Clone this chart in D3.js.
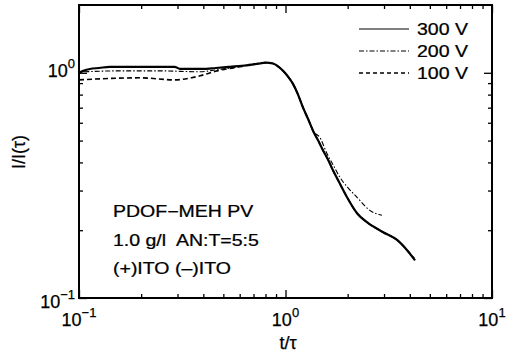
<!DOCTYPE html>
<html>
<head>
<meta charset="utf-8">
<script src="https://cdn.jsdelivr.net/npm/d3@7"></script>
<style>
  body { margin: 0; background: #fff; }
  svg { display: block; font-family: 'Liberation Sans', Arial, sans-serif; }
  text { stroke: #000; stroke-width: 0.25px; }
</style>
</head>
<body>
<div id="chart"></div>
<script>
const width = 508;
const height = 353;

// Data (t/tau vs I/I(tau))
const tRatio300 = [0.1, 0.105, 0.113, 0.125, 0.141, 0.2, 0.29, 0.31, 0.394, 0.46, 0.538, 0.65, 0.75, 0.8, 0.87, 0.93, 0.973, 1.03, 1.087, 1.15, 1.216, 1.29, 1.359, 1.44, 1.52, 1.61, 1.7, 1.84, 1.986, 2.22, 2.48, 2.97, 3.47, 3.88, 4.24];
const current300 = [1.0, 1.02, 1.04, 1.05, 1.063, 1.063, 1.063, 1.04, 1.04, 1.05, 1.063, 1.08, 1.1, 1.11, 1.1, 1.06, 1.02, 0.96, 0.893, 0.8, 0.7, 0.62, 0.553, 0.5, 0.452, 0.41, 0.368, 0.32, 0.28, 0.238, 0.217, 0.196, 0.181, 0.163, 0.147];

const tRatio200 = [0.106, 0.158, 0.25, 0.386, 0.46, 0.538, 0.65, 0.75, 0.8, 0.87, 0.93, 0.973, 1.03, 1.087, 1.15, 1.216, 1.29, 1.359, 1.469, 1.588, 1.7, 1.836, 2.0, 2.22, 2.56, 2.93];
const current200 = [1.01, 1.02, 1.02, 1.01, 1.03, 1.05, 1.08, 1.1, 1.11, 1.1, 1.06, 1.02, 0.96, 0.893, 0.8, 0.7, 0.62, 0.553, 0.515, 0.438, 0.39, 0.343, 0.31, 0.28, 0.245, 0.233];

const tRatio100 = [0.1, 0.126, 0.197, 0.292, 0.35, 0.386, 0.466, 0.602, 0.7, 0.8, 0.87, 0.93, 0.973, 1.03, 1.087, 1.15, 1.216, 1.29, 1.359, 1.44, 1.52, 1.61, 1.7, 1.84, 1.986, 2.22, 2.48, 2.97, 3.47, 3.88, 4.2];
const current100 = [0.93, 0.94, 0.95, 0.93, 0.95, 0.97, 1.02, 1.063, 1.09, 1.11, 1.1, 1.06, 1.02, 0.96, 0.893, 0.8, 0.7, 0.62, 0.553, 0.5, 0.452, 0.41, 0.368, 0.32, 0.28, 0.238, 0.217, 0.196, 0.181, 0.163, 0.15];

const legendLabels = ['300 V', '200 V', '100 V'];
const xMajorTicks = [0.1, 1, 10];
const xTickExponents = ['\u22121', '0', '1'];
const yMajorTicks = [0.1, 1];
const yTickExponents = ['\u22121', '0'];
const annotationLines = ['PDOF\u2212MEH PV', '1.0 g/l  AN:T=5:5', '(+)ITO (\u2013)ITO'];

const margin = { top: 5, right: 16, bottom: 55, left: 79 };
const plotW = width - margin.left - margin.right;
const plotH = height - margin.top - margin.bottom;

const svg = d3.select('#chart').append('svg')
  .attr('width', width)
  .attr('height', height);

const g = svg.append('g').attr('transform', `translate(${margin.left},${margin.top})`);

const x = d3.scaleLog().domain([0.1, 10]).range([0, plotW]);
const y = d3.scaleLog().domain([0.1, 2]).range([plotH, 0]);

const minorX = [2, 3, 4, 5, 6, 7, 8, 9].flatMap((m) => [m * 0.1, m]);
const minorY = [2, 3, 4, 5, 6, 7, 8, 9].map((m) => m * 0.1);

// Inward ticks on all four sides
const addTicks = (axisFn, scale, values, size, transform) => {
  g.append('g')
    .attr('transform', transform)
    .call(axisFn(scale).tickValues(values).tickSize(-size).tickFormat(''))
    .call((s) => s.select('.domain').remove())
    .call((s) => s.selectAll('line').attr('stroke', '#000').attr('stroke-width', 1.3));
};
addTicks(d3.axisBottom, x, xMajorTicks, 8, `translate(0,${plotH})`);
addTicks(d3.axisBottom, x, minorX, 4, `translate(0,${plotH})`);
addTicks(d3.axisTop, x, xMajorTicks, 8, 'translate(0,0)');
addTicks(d3.axisTop, x, minorX, 4, 'translate(0,0)');
addTicks(d3.axisLeft, y, yMajorTicks, 8, 'translate(0,0)');
addTicks(d3.axisLeft, y, minorY, 4, 'translate(0,0)');
addTicks(d3.axisRight, y, yMajorTicks, 8, `translate(${plotW},0)`);
addTicks(d3.axisRight, y, minorY, 4, `translate(${plotW},0)`);

// Frame
g.append('rect')
  .attr('width', plotW)
  .attr('height', plotH)
  .attr('fill', 'none')
  .attr('stroke', '#000')
  .attr('stroke-width', 2);

// Tick labels 10^n
const powerLabel = (sel, exp) => {
  sel.append('tspan').text('10');
  sel.append('tspan').attr('dy', -9).style('font-size', '13px').text(exp);
};

xMajorTicks.forEach((v, i) => {
  g.append('text')
    .attr('x', x(v))
    .attr('y', plotH + 28)
    .attr('text-anchor', 'middle')
    .style('font-size', '18px')
    .call(powerLabel, xTickExponents[i]);
});

yMajorTicks.forEach((v, i) => {
  g.append('text')
    .attr('x', -4)
    .attr('y', y(v) + (v === 1 ? 4 : 10))
    .attr('text-anchor', 'end')
    .style('font-size', '18px')
    .call(powerLabel, yTickExponents[i]);
});

// Axis titles
svg.append('text')
  .attr('x', 288)
  .attr('y', 349)
  .attr('text-anchor', 'middle')
  .style('font-size', '18px')
  .text('t/\u03c4');

svg.append('text')
  .attr('transform', 'translate(25,152) rotate(-90)')
  .attr('text-anchor', 'middle')
  .style('font-size', '18px')
  .text('I/I(\u03c4)');

// Curves
const series = [
  { t: tRatio100, v: current100, dash: '5,3', w: 1.6 },
  { t: tRatio200, v: current200, dash: '5,2,1.5,2', w: 1.1 },
  { t: tRatio300, v: current300, dash: null, w: 2.2 },
];

const line = d3.line()
  .x((d) => x(d[0]))
  .y((d) => y(d[1]))
  .curve(d3.curveMonotoneX);

series.forEach((s) => {
  g.append('path')
    .datum(d3.zip(s.t, s.v))
    .attr('fill', 'none')
    .attr('stroke', '#000')
    .attr('stroke-width', s.w)
    .attr('stroke-dasharray', s.dash)
    .attr('d', line);
});

// Legend
const legendStyles = [
  { dash: null, w: 1 },
  { dash: '5,2,1.5,2', w: 1 },
  { dash: '4,3', w: 1.6 },
];
const legendY = [29, 51, 73];
legendLabels.forEach((label, i) => {
  svg.append('line')
    .attr('x1', 359).attr('x2', 409)
    .attr('y1', legendY[i]).attr('y2', legendY[i])
    .attr('stroke', '#000')
    .attr('stroke-width', legendStyles[i].w)
    .attr('stroke-dasharray', legendStyles[i].dash);
  svg.append('text')
    .attr('transform', `translate(417,${legendY[i] + 6}) scale(1.22,1)`)
    .style('font-size', '16px')
    .text(label);
});

// Sample annotation
const annoY = [217, 246, 274];
annotationLines.forEach((txt, i) => {
  svg.append('text')
    .attr('transform', `translate(113,${annoY[i]}) scale(1.22,1)`)
    .style('font-size', '16px')
    .style('white-space', 'pre')
    .text(txt);
});
</script>
</body>
</html>
